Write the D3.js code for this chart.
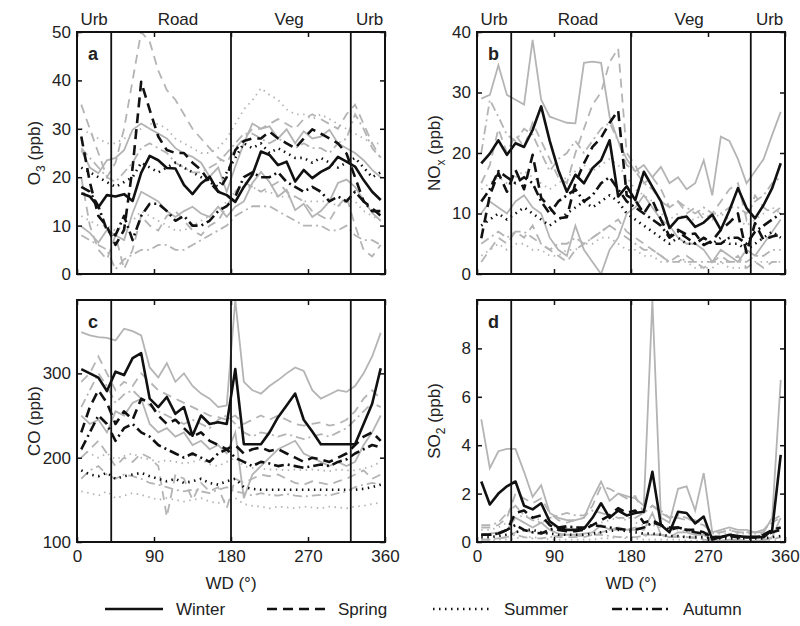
<!DOCTYPE html>
<html>
<head>
<meta charset="utf-8">
<script src="https://cdn.jsdelivr.net/npm/d3@7"></script>
<style>
  body { margin: 0; background: #fff; }
  svg { font-family: "Liberation Sans", Arial, sans-serif; }
</style>
</head>
<body>
<svg id="chart" width="800" height="626"></svg>
<script>
// wind direction bins (deg)
const wdBins = d3.range(5, 360, 10);
const xTicks = [0, 90, 180, 270, 360];
const sectorLines = [40, 180, 320];
const sectorLabels = [["Urb", 20], ["Road", 118], ["Veg", 248], ["Urb", 342]];
const seasons = ["Winter", "Spring", "Summer", "Autumn"];

// ---- O3 (ppb) ----
const o3WinMed = [16.7, 16.0, 13.8, 16.3, 16.0, 16.5, 15.1, 20.9, 24.4, 23.5, 21.9, 21.8, 18.4, 16.5, 18.7, 20.1, 17.0, 16.3, 14.9, 18.0, 20.5, 25.3, 24.6, 22.5, 23.2, 19.1, 21.5, 19.8, 21.1, 22.0, 24.2, 23.2, 22.2, 19.4, 17.0, 15.3];
const o3WinLo = [9.8, 8.5, 6.5, 9.1, 8.0, 7.0, 12.6, 17.0, 16.0, 15.0, 13.0, 11.8, 13.0, 13.9, 12.5, 11.8, 13.9, 11.8, 13.9, 15.0, 18.8, 21.1, 19.0, 16.0, 17.4, 13.2, 14.5, 11.8, 13.0, 15.0, 18.8, 19.5, 18.0, 15.3, 12.6, 11.0];
const o3WinHi = [25.6, 22.0, 20.8, 23.5, 24.0, 25.6, 29.8, 31.1, 30.0, 29.0, 28.0, 26.0, 24.9, 24.2, 23.0, 20.1, 22.0, 17.0, 22.2, 27.0, 31.1, 30.0, 30.5, 28.0, 29.9, 27.0, 29.5, 28.0, 28.4, 29.8, 27.0, 26.0, 25.0, 23.5, 21.5, 20.0];
const o3SprMed = [28.4, 19.0, 12.0, 9.8, 6.0, 9.1, 22.0, 39.7, 33.9, 28.4, 25.6, 25.0, 25.0, 23.0, 21.5, 19.0, 17.0, 20.0, 25.6, 27.5, 28.0, 28.0, 29.4, 28.0, 27.0, 26.0, 28.0, 29.9, 29.0, 28.0, 27.0, 24.9, 20.0, 15.0, 13.6, 12.0];
const o3SprLo = [20, 10, 5, 3, 8, 1, 5, 12, 10, 9, 12, 13, 11, 9, 8, 10, 11, 14, 17, 19, 18, 17, 18, 19, 17, 16, 15, 13, 12, 11, 14, 16, 10, 5, 3.6, 6];
const o3SprHi = [35, 30, 25, 20, 23, 30, 40, 50, 48, 42, 38, 36, 33, 30, 28, 26, 24, 23, 26, 28, 30, 30, 31, 32, 31, 30, 32, 33, 32, 31, 30, 33, 35, 31, 27, 24];
const o3SumMed = [22, 21, 20, 19, 18, 19, 20, 23, 22, 21, 22, 23, 22, 21, 20, 19, 18, 21, 24, 27, 26, 27, 25, 26, 25, 24, 24, 23, 24, 23, 22, 23, 24, 22, 20, 21];
const o3SumLo = [12, 11, 10, 10, 9, 10, 11, 13, 12, 11, 10, 9, 9, 10, 11, 12, 13, 15, 17, 18, 18, 17, 17, 16, 16, 16, 15, 15, 15, 15, 14, 15, 15, 13, 12, 11];
const o3SumHi = [30, 29, 28, 27, 27, 28, 29, 30, 31, 31, 30, 28, 27, 26, 25, 25, 26, 28, 31, 34, 35.9, 38.4, 37, 36, 34, 33, 33, 32, 33, 32, 31, 30, 29, 28, 27, 27];
const o3AutMed = [18, 17, 14, 9, 8, 12, 7, 12, 14.5, 14.5, 13, 11, 12, 10, 10, 11, 13, 14, 16, 20, 21, 20, 20, 21, 19, 18, 17, 18, 17, 15, 16, 15, 17, 15, 13, 13];
const o3AutLo = [8, 7, 6, 5, 1, 3, 4, 5, 5, 6, 6, 5, 5, 6, 7, 8, 9, 10, 12, 13, 14, 14, 14, 13, 12, 11, 10, 10, 10, 9, 9, 10, 8, 7, 7, 6];
const o3AutHi = [26, 24, 22, 20, 19, 21, 23, 26, 27, 26, 25, 23, 22, 21, 21, 22, 23, 25, 27, 29, 29, 28, 27, 28, 27, 26, 27, 26, 26, 25, 27, 28, 33, 30, 26, 24];

// ---- NOx (ppb) ----
const nxWinMed = [18.3, 19.9, 22.1, 19.7, 21.6, 21.0, 23.8, 27.7, 22.0, 17.2, 13.6, 16.4, 15.0, 17.5, 18.8, 22.1, 12.8, 14.5, 12.2, 16.9, 14.4, 12.0, 7.6, 9.2, 9.5, 7.8, 8.5, 9.8, 7.3, 10.5, 14.2, 10.9, 9.2, 11.4, 14.2, 18.3];
const nxWinLo = [10, 12, 11, 10, 12, 13, 11, 10, 6, 4, 3, 8, 4, 2, 0, 4, 6, 10, 11, 13, 11, 9, 8, 6, 5, 5, 4, 2, 4, 3, 2, 4, 3, 5, 7, 9];
const nxWinHi = [29, 29.6, 34.5, 29.6, 28.8, 28, 38.7, 28.8, 26, 25.5, 25, 24.9, 34.9, 35.1, 34.9, 26, 22, 19, 17, 18, 16, 17.7, 15, 16, 14, 15, 18.8, 13, 22.7, 22, 19, 15, 17, 19, 23, 26.8];
const nxSprMed = [5.9, 13, 16.7, 13.6, 17.2, 14, 19.7, 12.6, 11, 9.2, 9.4, 15, 18.3, 21, 22.5, 25, 27, 13, 12.2, 10, 12.2, 9, 6.2, 7.3, 6.5, 6.7, 4.8, 5.5, 7.3, 8.5, 10, 3.5, 8.4, 5.6, 6.2, 6.5];
const nxSprLo = [2, 4, 6, 5, 7, 6, 8, 5, 4, 3, 2, 4, 5, 6, 7, 8, 9, 7, 6, 5, 4, 3, 2, 2, 3, 2, 1, 2, 3, 2, 3, 1, 2, 1, 2, 2];
const nxSprHi = [15, 18, 24, 20, 23, 21, 25, 22, 19, 16, 15, 20, 24, 28, 30, 35, 37.3, 20, 18, 15, 16, 14, 11, 12, 10, 11, 9, 10, 12, 14, 15, 9, 13, 11, 10, 11];
const nxSumMed = [8, 9, 10, 9, 10, 11, 10, 9, 8, 9, 10, 11, 12, 11, 12, 13, 12, 10, 9, 8, 7, 6, 5, 6, 5, 5, 6, 5, 6, 5, 5, 4, 5, 6, 7, 6];
const nxSumLo = [3, 4, 5, 4, 5, 5, 4, 4, 3, 3, 4, 4, 5, 5, 6, 6, 5, 4, 4, 3, 3, 2, 2, 2, 2, 1, 1, 1, 2, 1, 1, 1, 2, 2, 2, 2];
const nxSumHi = [14, 15, 16, 15, 16, 17, 16, 15, 14, 15, 16, 17, 18, 17, 18, 19, 18, 16, 14, 13, 12, 10, 9, 10, 9, 9, 10, 9, 10, 9, 9, 8, 9, 10, 11, 10];
const nxAutMed = [12, 14, 17, 16, 15, 16, 15, 12, 10, 12, 13, 14, 12, 13, 15, 16, 14, 12, 11, 10, 9, 8, 6, 7, 6, 5, 6, 5, 5, 6, 6, 5, 7, 8, 9, 10];
const nxAutLo = [5, 6, 7, 6, 7, 7, 6, 5, 4, 5, 5, 6, 5, 6, 7, 8, 7, 6, 5, 4, 4, 3, 2, 3, 2, 2, 2, 2, 2, 2, 2, 2, 3, 3, 4, 4];
const nxAutHi = [20, 28.8, 26, 23, 22, 24, 23, 20, 17, 19, 20, 22, 20, 22, 24, 25, 22, 18, 17, 15, 14, 12, 11, 12, 11, 10, 11, 10, 10, 11, 11, 10, 12, 13, 15, 16];

// ---- CO (ppb) ----
const coWinMed = [305, 300, 295, 279, 302, 298, 318, 324, 270, 260, 272, 252, 260, 226, 250, 240, 242, 240, 305, 216, 216, 216, 230, 248, 262, 276, 245, 231, 216, 216, 216, 216, 216, 240, 264, 306];
const coWinLo = [250, 240, 245, 230, 255, 250, 265, 270, 240, 230, 235, 225, 230, 215, 220, 210, 215, 205, 230, 152, 180, 190, 200, 210, 215, 220, 205, 200, 195, 190, 195, 190, 195, 215, 230, 250];
const coWinHi = [349, 345, 343, 342, 339, 353, 350, 345, 307, 295, 312, 290, 300, 285, 276, 270, 260, 262, 387, 290, 280, 276, 285, 292, 300, 307, 303, 280, 270, 275, 280, 278, 285, 300, 320, 348];
const coSprMed = [230, 260, 280, 265, 240, 255, 245, 270, 265, 250, 240, 245, 235, 225, 230, 220, 215, 210, 215, 205, 210, 212, 208, 210, 205, 200, 195, 200, 198, 195, 200, 205, 215, 225, 230, 220];
const coSprLo = [200, 210, 220, 205, 190, 200, 195, 205, 200, 190, 130, 180, 175, 150, 170, 160, 165, 140, 175, 170, 175, 180, 178, 180, 175, 170, 168, 172, 170, 168, 172, 175, 180, 185, 175, 180];
const coSprHi = [290, 300, 320, 300, 280, 290, 285, 300, 290, 280, 275, 270, 265, 260, 255, 250, 248, 245, 250, 240, 245, 250, 245, 250, 245, 240, 238, 240, 242, 238, 240, 245, 255, 270, 280, 270];
const coSumMed = [185, 180, 178, 182, 175, 178, 180, 182, 178, 175, 172, 175, 170, 172, 175, 170, 168, 172, 175, 165, 163, 162, 162, 162, 162, 162, 162, 162, 162, 162, 162, 162, 162, 163, 165, 168];
const coSumLo = [160, 158, 155, 160, 152, 155, 158, 156, 153, 150, 152, 150, 148, 150, 152, 148, 146, 150, 152, 145, 143, 142, 140, 142, 141, 140, 142, 141, 140, 142, 141, 140, 142, 143, 145, 147];
const coSumHi = [210, 205, 200, 205, 198, 202, 205, 200, 198, 195, 197, 195, 193, 195, 198, 192, 190, 195, 200, 190, 188, 187, 186, 186, 185, 186, 185, 186, 185, 184, 186, 185, 185, 187, 190, 195];
const coAutMed = [210, 230, 250, 240, 220, 235, 240, 230, 225, 215, 210, 205, 200, 205, 200, 195, 205, 210, 200, 195, 190, 195, 193, 190, 192, 190, 188, 190, 192, 190, 195, 198, 205, 210, 215, 212];
const coAutLo = [175, 185, 190, 180, 175, 180, 178, 175, 170, 168, 165, 162, 160, 162, 160, 158, 162, 165, 160, 158, 155, 158, 156, 155, 157, 155, 154, 155, 156, 155, 158, 160, 165, 168, 170, 168];
const coAutHi = [260, 280, 300, 285, 265, 275, 280, 270, 262, 255, 250, 245, 240, 245, 240, 235, 245, 250, 240, 230, 225, 230, 228, 225, 228, 225, 222, 225, 228, 225, 230, 235, 245, 255, 265, 260];

// ---- SO2 (ppb) ----
const soWinMed = [2.5, 1.55, 2.0, 2.3, 2.5, 1.5, 1.35, 1.6, 0.85, 0.6, 0.5, 0.5, 0.55, 1.0, 1.6, 1.0, 1.3, 1.1, 1.2, 1.25, 2.9, 0.7, 0.4, 1.25, 1.2, 0.77, 1.05, 0.1, 0.2, 0.3, 0.25, 0.2, 0.2, 0.2, 0.5, 3.6];
const soWinLo = [0.3, 0.35, 0.4, 0.5, 1.0, 0.8, 0.6, 0.8, 0.5, 0.35, 0.3, 0.3, 0.35, 0.4, 0.7, 0.5, 0.6, 0.5, 0.6, 0.5, 1.2, 0.3, 0.2, 0.4, 0.4, 0.3, 0.3, 0.05, 0.05, 0.1, 0.1, 0.05, 0.05, 0.05, 0.2, 1.0];
const soWinHi = [5.07, 3.05, 3.75, 3.85, 3.85, 2.9, 1.87, 2.35, 1.2, 1.0, 0.9, 0.9, 1.0, 1.8, 2.5, 1.7, 2.0, 1.9, 1.8, 1.5, 10, 1.0, 0.8, 2.2, 2.3, 1.3, 2.85, 0.4, 0.5, 0.6, 0.5, 0.5, 0.4, 0.4, 1.0, 6.7];
const soSprMed = [0.3, 0.3, 0.35, 0.5, 1.2, 1.3, 1.0, 1.1, 0.7, 0.5, 0.45, 0.45, 0.5, 0.7, 0.9, 1.1, 1.4, 1.2, 1.3, 0.8, 0.9, 0.7, 0.6, 0.6, 0.5, 0.5, 0.4, 0.2, 0.2, 0.3, 0.2, 0.2, 0.2, 0.3, 0.5, 0.6];
const soSprLo = [0.1, 0.1, 0.15, 0.2, 0.4, 0.5, 0.4, 0.4, 0.3, 0.2, 0.2, 0.2, 0.2, 0.3, 0.4, 0.5, 0.5, 0.5, 0.5, 0.3, 0.3, 0.3, 0.2, 0.2, 0.2, 0.2, 0.1, 0.05, 0.05, 0.1, 0.05, 0.05, 0.05, 0.1, 0.1, 0.2];
const soSprHi = [0.6, 0.6, 0.7, 1.0, 2.0, 1.8, 1.6, 1.8, 1.2, 0.9, 0.8, 0.9, 1.0, 1.5, 2.3, 2.2, 2.0, 1.8, 1.9, 1.2, 1.5, 1.2, 1.0, 1.0, 0.9, 0.9, 0.7, 0.4, 0.4, 0.5, 0.4, 0.4, 0.4, 0.5, 0.9, 1.1];
const soSumMed = [0.2, 0.2, 0.25, 0.3, 0.4, 0.5, 0.5, 0.4, 0.35, 0.3, 0.3, 0.3, 0.3, 0.35, 0.4, 0.45, 0.5, 0.45, 0.4, 0.35, 0.35, 0.3, 0.25, 0.25, 0.2, 0.2, 0.2, 0.15, 0.15, 0.15, 0.15, 0.15, 0.15, 0.15, 0.2, 0.25];
const soSumLo = [0.05, 0.05, 0.1, 0.1, 0.15, 0.2, 0.2, 0.15, 0.1, 0.1, 0.1, 0.1, 0.1, 0.1, 0.15, 0.15, 0.2, 0.15, 0.15, 0.1, 0.1, 0.1, 0.1, 0.1, 0.05, 0.05, 0.05, 0.05, 0.05, 0.05, 0.05, 0.05, 0.05, 0.05, 0.05, 0.1];
const soSumHi = [0.5, 0.5, 0.6, 0.8, 1.0, 1.1, 1.0, 0.9, 0.7, 0.6, 0.6, 0.6, 0.6, 0.7, 0.8, 0.9, 1.0, 0.9, 0.8, 0.7, 0.7, 0.6, 0.5, 0.5, 0.45, 0.4, 0.4, 0.35, 0.35, 0.35, 0.35, 0.35, 0.35, 0.35, 0.45, 0.55];
const soAutMed = [0.3, 0.3, 0.35, 0.5, 0.7, 0.5, 0.4, 0.35, 0.5, 0.6, 0.65, 0.6, 0.6, 0.7, 0.65, 0.6, 0.55, 0.5, 0.5, 0.6, 0.8, 0.7, 0.5, 0.6, 0.5, 0.4, 0.35, 0.2, 0.2, 0.25, 0.2, 0.2, 0.2, 0.25, 0.4, 0.5];
const soAutLo = [0.1, 0.1, 0.15, 0.2, 0.3, 0.2, 0.15, 0.15, 0.2, 0.25, 0.3, 0.25, 0.25, 0.3, 0.3, 0.25, 0.2, 0.2, 0.2, 0.25, 0.3, 0.3, 0.2, 0.25, 0.2, 0.15, 0.15, 0.05, 0.05, 0.1, 0.05, 0.05, 0.05, 0.1, 0.15, 0.2];
const soAutHi = [0.7, 0.7, 0.8, 1.2, 1.5, 1.1, 0.9, 0.8, 1.0, 1.1, 1.2, 1.1, 1.1, 1.3, 1.2, 1.1, 1.0, 1.0, 1.0, 1.2, 1.5, 1.3, 1.0, 1.1, 1.0, 0.8, 0.7, 0.4, 0.4, 0.5, 0.4, 0.4, 0.4, 0.5, 0.8, 1.0];

const dashes = { Winter: null, Spring: "10,6", Summer: "1.5,4.5", Autumn: "10,4,2,4" };
const greyDashes = { Winter: null, Spring: "9,6", Summer: "1.5,4.5", Autumn: "9,4,2,4" };

const panels = [
  { id: "a", x0: 77, y0: 32, yDomain: [0, 50], yTicks: [0, 10, 20, 30, 40, 50], label: ["O", "3"], top: true,
    series: [[o3WinMed, o3WinLo, o3WinHi], [o3SprMed, o3SprLo, o3SprHi], [o3SumMed, o3SumLo, o3SumHi], [o3AutMed, o3AutLo, o3AutHi]] },
  { id: "b", x0: 477, y0: 32, yDomain: [0, 40], yTicks: [0, 10, 20, 30, 40], label: ["NO", "x"], top: true,
    series: [[nxWinMed, nxWinLo, nxWinHi], [nxSprMed, nxSprLo, nxSprHi], [nxSumMed, nxSumLo, nxSumHi], [nxAutMed, nxAutLo, nxAutHi]] },
  { id: "c", x0: 77, y0: 300, yDomain: [100, 387], yTicks: [100, 200, 300], label: ["CO", ""], top: false,
    series: [[coWinMed, coWinLo, coWinHi], [coSprMed, coSprLo, coSprHi], [coSumMed, coSumLo, coSumHi], [coAutMed, coAutLo, coAutHi]] },
  { id: "d", x0: 477, y0: 300, yDomain: [0, 10], yTicks: [0, 2, 4, 6, 8], label: ["SO", "2"], top: false,
    series: [[soWinMed, soWinLo, soWinHi], [soSprMed, soSprLo, soSprHi], [soSumMed, soSumLo, soSumHi], [soAutMed, soAutLo, soAutHi]] },
];

const W = 308, H = 242;
const svg = d3.select("#chart");

panels.forEach((p) => {
  const g = svg.append("g").attr("transform", `translate(${p.x0},${p.y0})`);
  const x = d3.scaleLinear().domain([0, 360]).range([0, W]);
  const y = d3.scaleLinear().domain(p.yDomain).range([H, 0]);

  g.append("clipPath").attr("id", "clip-" + p.id)
    .append("rect").attr("width", W).attr("height", H);

  const line = d3.line().x((d, i) => x(wdBins[i])).y((d) => y(d));
  const plot = g.append("g").attr("clip-path", `url(#clip-${p.id})`);

  // grey quartile lines first
  p.series.forEach((s, si) => {
    [s[1], s[2]].forEach((vals) => {
      plot.append("path").datum(vals).attr("d", line)
        .attr("fill", "none").attr("stroke", "#b4b4b4").attr("stroke-width", 1.8)
        .attr("stroke-dasharray", greyDashes[seasons[si]]);
    });
  });
  // black medians
  p.series.forEach((s, si) => {
    plot.append("path").datum(s[0]).attr("d", line)
      .attr("fill", "none").attr("stroke", "#111").attr("stroke-width", 2.6)
      .attr("stroke-linejoin", "round")
      .attr("stroke-dasharray", dashes[seasons[si]]);
  });

  // sector dividers
  sectorLines.forEach((v) => {
    g.append("line").attr("x1", x(v)).attr("x2", x(v)).attr("y1", 0).attr("y2", H)
      .attr("stroke", "#111").attr("stroke-width", 1.8);
  });

  // axes with inward ticks on all sides
  const fmt = (d) => d;
  g.append("g").attr("transform", `translate(0,${H})`)
    .call(d3.axisBottom(x).tickValues(xTicks).tickSize(-5).tickPadding(8).tickFormat(p.top ? "" : fmt));
  g.append("g").call(d3.axisTop(x).tickValues(xTicks).tickSize(-5).tickFormat(""));
  g.append("g").call(d3.axisLeft(y).tickValues(p.yTicks).tickSize(-5).tickPadding(6).tickFormat(fmt));
  g.append("g").attr("transform", `translate(${W},0)`)
    .call(d3.axisRight(y).tickValues(p.yTicks).tickSize(-5).tickFormat(""));
  g.selectAll(".domain").remove();
  g.selectAll(".tick line").attr("stroke", "#111").attr("stroke-width", 1.5);
  g.selectAll(".tick text").attr("font-size", 17).attr("fill", "#222")
    .attr("font-family", "Liberation Sans, Arial, sans-serif");

  g.append("rect").attr("width", W).attr("height", H)
    .attr("fill", "none").attr("stroke", "#111").attr("stroke-width", 2);

  // panel letter
  g.append("text").attr("x", 11).attr("y", 28).attr("font-size", 18)
    .attr("font-weight", "bold").attr("fill", "#222").text(p.id);

  // y label
  const yl = g.append("text")
    .attr("transform", `translate(-37,${H / 2}) rotate(-90)`)
    .attr("text-anchor", "middle").attr("font-size", 17).attr("fill", "#222");
  yl.append("tspan").text(p.label[0]);
  if (p.label[1]) yl.append("tspan").attr("font-size", 12).attr("dy", 5).text(p.label[1]);
  yl.append("tspan").attr("dy", p.label[1] ? -5 : 0).text(" (ppb)");

  if (p.top) {
    sectorLabels.forEach(([t, v]) => {
      g.append("text").attr("x", x(v)).attr("y", -7).attr("text-anchor", "middle")
        .attr("font-size", 17).attr("fill", "#222").text(t);
    });
  } else {
    g.append("text").attr("x", W / 2).attr("y", H + 47).attr("text-anchor", "middle")
      .attr("font-size", 17).attr("fill", "#222").text("WD (°)");
  }
});

// legend
const legendX = [105, 267, 433, 612];
const legend = svg.append("g").attr("transform", "translate(0,609)");
seasons.forEach((s, i) => {
  legend.append("line").attr("x1", legendX[i]).attr("x2", legendX[i] + 58)
    .attr("y1", 0).attr("y2", 0).attr("stroke", "#111").attr("stroke-width", 2.6)
    .attr("stroke-dasharray", dashes[s]);
  legend.append("text").attr("x", legendX[i] + 71).attr("y", 6)
    .attr("font-size", 17).attr("fill", "#222").text(s);
});
</script>
</body>
</html>
